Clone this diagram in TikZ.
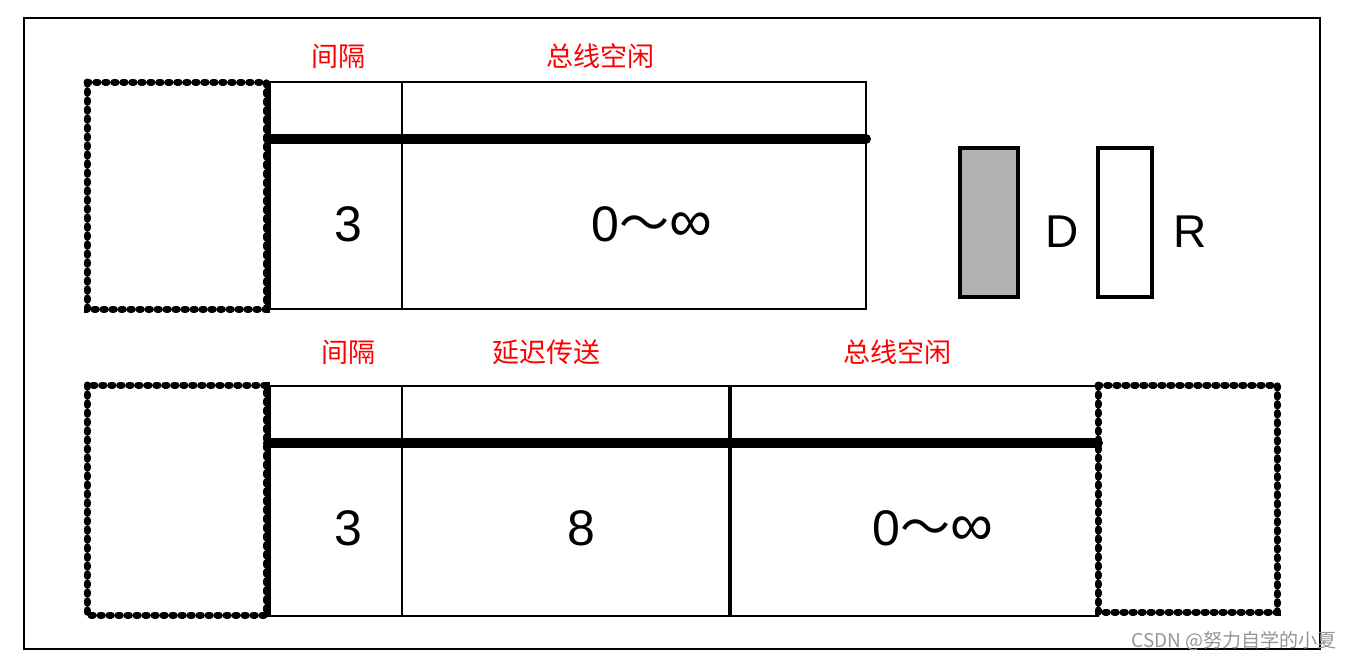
\documentclass[tikz,border=0pt]{standalone}
\usepackage{fontspec}
\setmainfont{Liberation Sans}
\newfontfamily\cjk{Noto Sans CJK SC}
\begin{document}
\begin{tikzpicture}[x=1pt,y=-1pt,
  frame/.style={draw=black,line width=2.2pt},
  cell/.style={draw=black,line width=2.8pt},
  dotbox/.style={draw=black,line width=7pt,line cap=round,dash pattern=on 2.2pt off 6.8pt},
  bus/.style={draw=black,line width=10pt,line cap=round},
  lbl/.style={text=red,font=\cjk\fontsize{27}{27}\selectfont,inner sep=0pt},
  num/.style={font=\fontsize{50}{50}\selectfont,inner sep=0pt},
  let/.style={font=\fontsize{46}{46}\selectfont,inner sep=0pt}]
\useasboundingbox (0,0) rectangle (1354,661);
\fill[white] (0,0) rectangle (1354,661);
\draw[frame] (24,18) rectangle (1320,649);
% top row
\draw[dotbox] (87,82) rectangle (266,309);
\draw[cell] (268,82) rectangle (866,309);
\draw[cell] (402,82) -- (402,309);
\draw[black,line width=6pt] (268,82) -- (268,309);
\coordinate (tb1) at (268,139);
\coordinate (tb2) at (866,139);
\draw[bus] (tb1) -- (tb2);
\node[lbl] (t1) at (338,56) {间隔};
\node[lbl] (t2) at (600,56) {总线空闲};
\node[num] (t3) at (348,224) {3};
\node[num] (t4) at (652,224) {0{\cjk ～}{\fontsize{60}{60}\selectfont ∞}};
% legend
\draw[line width=3.5pt,fill={rgb,255:red,178;green,178;blue,178}] (960,148) rectangle (1018,297);
\node[let] (d) at (1062,232) {D};
\draw[line width=3.5pt,fill=white] (1098,148) rectangle (1152,297);
\node[let] (r) at (1190,232) {R};
% bottom row
\draw[dotbox] (87,385) rectangle (266,615);
\draw[dotbox] (1098,385) rectangle (1277,612);
\draw[cell] (268,386) rectangle (1098,616);
\draw[cell] (402,386) -- (402,616);
\draw[black,line width=4.5pt] (730,386) -- (730,616);
\draw[black,line width=6pt] (268,386) -- (268,616);
\coordinate (bb1) at (268,443);
\coordinate (bb2) at (1098,443);
\draw[bus] (bb1) -- (bb2);
\node[lbl] (b1) at (348,352) {间隔};
\node[lbl] (b2) at (546,352) {延迟传送};
\node[lbl] (b3) at (897,352) {总线空闲};
\node[num] (b4) at (348,528) {3};
\node[num] (b5) at (581,528) {8};
\node[num] (b6) at (933,528) {0{\cjk ～}{\fontsize{60}{60}\selectfont ∞}};
\node[text={rgb,255:red,150;green,150;blue,150},font=\cjk\fontsize{19}{19}\selectfont,inner sep=0pt] (wm) at (1234,641) {CSDN @努力自学的小夏};
\end{tikzpicture}
\end{document}
